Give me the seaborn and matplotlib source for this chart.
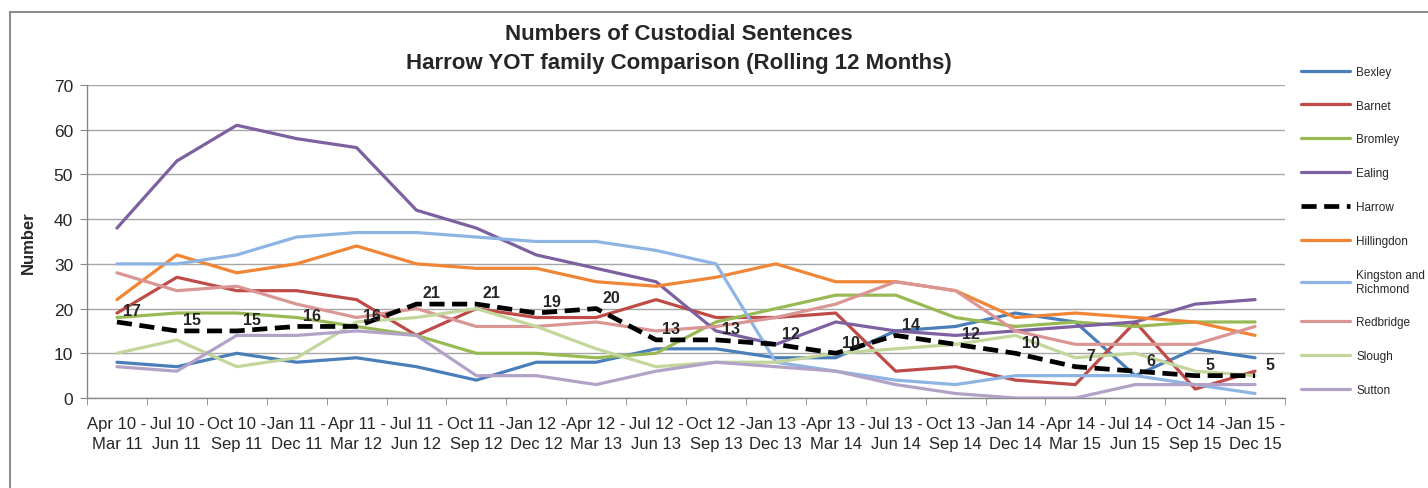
import numpy as np
import pandas as pd
import seaborn as sns
import matplotlib.pyplot as plt
from matplotlib.lines import Line2D

periods = ["Apr 10 -\nMar 11", "Jul 10 -\nJun 11", "Oct 10 -\nSep 11", "Jan 11 -\nDec 11",
           "Apr 11 -\nMar 12", "Jul 11 -\nJun 12", "Oct 11 -\nSep 12", "Jan 12 -\nDec 12",
           "Apr 12 -\nMar 13", "Jul 12 -\nJun 13", "Oct 12 -\nSep 13", "Jan 13 -\nDec 13",
           "Apr 13 -\nMar 14", "Jul 13 -\nJun 14", "Oct 13 -\nSep 14", "Jan 14 -\nDec 14",
           "Apr 14 -\nMar 15", "Jul 14 -\nJun 15", "Oct 14 -\nSep 15", "Jan 15 -\nDec 15"]

bexley     = [8, 7, 10, 8, 9, 7, 4, 8, 8, 11, 11, 9, 9, 15, 16, 19, 17, 5, 11, 9]
barnet     = [19, 27, 24, 24, 22, 14, 20, 18, 18, 22, 18, 18, 19, 6, 7, 4, 3, 17, 2, 6]
bromley    = [18, 19, 19, 18, 16, 14, 10, 10, 9, 10, 17, 20, 23, 23, 18, 16, 17, 16, 17, 17]
ealing     = [38, 53, 61, 58, 56, 42, 38, 32, 29, 26, 15, 12, 17, 15, 14, 15, 16, 17, 21, 22]
harrow     = [17, 15, 15, 16, 16, 21, 21, 19, 20, 13, 13, 12, 10, 14, 12, 10, 7, 6, 5, 5]
hillingdon = [22, 32, 28, 30, 34, 30, 29, 29, 26, 25, 27, 30, 26, 26, 24, 18, 19, 18, 17, 14]
kingston   = [30, 30, 32, 36, 37, 37, 36, 35, 35, 33, 30, 8, 6, 4, 3, 5, 5, 5, 3, 1]
redbridge  = [28, 24, 25, 21, 18, 20, 16, 16, 17, 15, 16, 18, 21, 26, 24, 15, 12, 12, 12, 16]
slough     = [10, 13, 7, 9, 17, 18, 20, 16, 11, 7, 8, 8, 10, 11, 12, 14, 9, 10, 6, 5]
sutton     = [7, 6, 14, 14, 15, 14, 5, 5, 3, 6, 8, 7, 6, 3, 1, 0, 0, 3, 3, 3]

names = ["Bexley", "Barnet", "Bromley", "Ealing", "Harrow", "Hillingdon",
         "Kingston and\nRichmond", "Redbridge", "Slough", "Sutton"]
values = [bexley, barnet, bromley, ealing, harrow, hillingdon, kingston, redbridge, slough, sutton]
colors = ["#4A7EBB", "#BE4B48", "#98B954", "#7D60A0", "#000000", "#EF8535",
          "#8EB4E3", "#D99694", "#C3D69B", "#B3A2C7"]

sns.set_style("white")
plt.rcParams['font.family'] = ['Liberation Sans', 'DejaVu Sans']

W, H = 1428, 489
fig = plt.figure(figsize=(W / 100, H / 100), dpi=100)
ax = fig.add_axes([87 / W, 1 - 399 / H, (1285 - 87) / W, (399 - 86) / H])

x = np.arange(len(periods))
for name, vals, col in zip(names, values, colors):
    if name == "Harrow":
        sns.lineplot(x=x, y=vals, ax=ax, color=col, lw=3.4, label=name,
                     linestyle=(0, (3.2, 1.6)), zorder=5)
    else:
        sns.lineplot(x=x, y=vals, ax=ax, color=col, lw=2.3, label=name, zorder=3)

for i, v in enumerate(harrow):
    ax.annotate(str(v), (i, v), xytext=(11, 8), textcoords="offset points",
                ha="center", va="center", fontsize=11.5, fontweight="bold", zorder=6)

ax.set_xlim(-0.5, len(periods) - 0.5)
ax.set_ylim(0, 70)
ax.set_yticks(range(0, 71, 10))
ax.set_xticks(x)
ax.set_xticklabels(periods, fontsize=12, linespacing=1.4)
ax.set_xticks(np.arange(-0.5, len(periods), 1), minor=True)
ax.tick_params(axis="x", which="major", length=0, pad=13)
ax.tick_params(axis="x", which="minor", length=5, color="#888888", direction="out", bottom=True)
ax.tick_params(axis="y", length=5, color="#888888", direction="out", left=True, labelsize=12.5, pad=5)
ax.grid(axis="y", color="#A6A6A6", lw=1)
ax.set_axisbelow(True)
for s in ["top", "right"]:
    ax.spines[s].set_visible(False)
for s in ["left", "bottom"]:
    ax.spines[s].set_color("#888888")
    ax.spines[s].set_linewidth(1)

ax.set_xlabel("")
ax.set_ylabel("Number", fontsize=12, fontweight="bold")
ax.yaxis.set_label_coords((36 - 87) / (1285 - 87), 0.5)

fig.text(679 / W, 1 - 34 / H, "Numbers of Custodial Sentences", ha="center", va="center",
         fontsize=16, fontweight="bold")
fig.text(679 / W, 1 - 63 / H, "Harrow YOT family Comparison (Rolling 12 Months)", ha="center",
         va="center", fontsize=16, fontweight="bold")

handles, labels = ax.get_legend_handles_labels()
ax.legend_.remove()
fig.legend(handles, labels, loc="upper left", bbox_to_anchor=(1296 / W, 1 - 62 / H),
           frameon=False, fontsize=8.5, handlelength=4.2, handletextpad=0.5,
           labelspacing=1.85, borderaxespad=0)

fig.add_artist(Line2D([10 / W, 1], [1 - 12.5 / H, 1 - 12.5 / H], color="#8C8C8C", lw=1.5))
fig.add_artist(Line2D([10 / W, 10 / W], [0, 1 - 12.5 / H], color="#8C8C8C", lw=1.5))

fig.savefig("out.png", dpi=100)
